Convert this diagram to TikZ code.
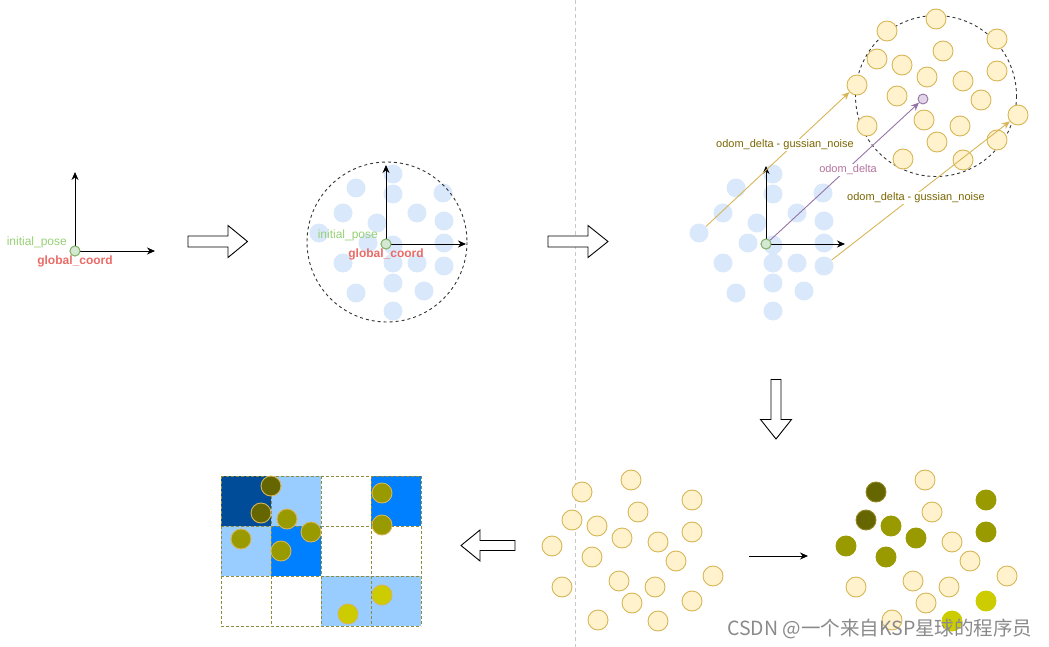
\documentclass[tikz,border=0pt]{standalone}
\usepackage{fontspec}
\setmainfont{Liberation Sans}
\newfontfamily\cjkfont{Noto Sans CJK SC}
\usetikzlibrary{arrows.meta}
\definecolor{bluefill}{HTML}{DAE8FC}
\definecolor{yfill}{HTML}{FFF2CC}
\definecolor{ystroke}{HTML}{D6B656}
\definecolor{gfill}{HTML}{D5E8D4}
\definecolor{gstroke}{HTML}{82B366}
\definecolor{pfill}{HTML}{E1D5E7}
\definecolor{pstroke}{HTML}{9673A6}
\definecolor{ptext}{HTML}{B5739D}
\definecolor{gtext}{HTML}{97D077}
\definecolor{rtext}{HTML}{EA6B66}
\definecolor{otext}{HTML}{7A6600}
\definecolor{cdark}{HTML}{666600}
\definecolor{colive}{HTML}{999900}
\definecolor{cyel}{HTML}{CCCC00}
\definecolor{bdark}{HTML}{004C99}
\definecolor{blight}{HTML}{99CCFF}
\definecolor{bmid}{HTML}{007FFF}
\definecolor{gridline}{HTML}{8C8C3C}
\definecolor{sepline}{HTML}{C8C8C8}
\definecolor{wm}{HTML}{8A8A8A}
\begin{document}
\begin{tikzpicture}[x=1pt,y=-1pt,
  bluedot/.style={circle,fill=bluefill,draw=none,minimum size=19pt,inner sep=0pt},
  ylight/.style={circle,fill=yfill,draw=ystroke,line width=0.9pt,minimum size=20pt,inner sep=0pt},
  ydark/.style={circle,fill=cdark,draw=ystroke!40!cdark,line width=0.9pt,minimum size=20pt,inner sep=0pt},
  yolive/.style={circle,fill=colive,draw=colive,line width=0.9pt,minimum size=20pt,inner sep=0pt},
  yyel/.style={circle,fill=cyel,draw=cyel,line width=0.9pt,minimum size=20pt,inner sep=0pt},
  gdark/.style={circle,fill=cdark,draw=ystroke,line width=0.9pt,minimum size=20pt,inner sep=0pt},
  golive/.style={circle,fill=colive,draw=ystroke,line width=0.9pt,minimum size=20pt,inner sep=0pt},
  gyel/.style={circle,fill=cyel,draw=ystroke,line width=0.9pt,minimum size=20pt,inner sep=0pt},
  origdot/.style={circle,fill=gfill,draw=gstroke,line width=0.9pt,minimum size=10pt,inner sep=0pt},
  pdot/.style={circle,fill=pfill,draw=pstroke,line width=0.9pt,minimum size=10pt,inner sep=0pt},
  axisarrow/.style={draw=black,line width=0.9pt,-{Stealth[length=8pt,width=7pt]}},
  rangecirc/.style={draw=black!80,line width=0.9pt,dash pattern=on 3pt off 3pt},
  hollowarrow/.style={draw=black,line width=0.9pt,fill=white},
  posel/.style={text=gtext,font=\fontsize{12}{14}\selectfont,inner sep=1pt},
  coordl/.style={text=rtext,font=\fontsize{12}{14}\selectfont\bfseries,inner sep=1pt},
  odoml/.style={text=otext,font=\fontsize{11}{13}\selectfont,fill=white,inner sep=1pt},
  deltal/.style={text=ptext,font=\fontsize{11}{13}\selectfont,fill=white,inner sep=1pt},
  yline/.style={draw=ystroke,line width=0.9pt,-{Stealth[length=8pt,width=7pt]}},
  pline/.style={draw=pstroke,line width=0.9pt,-{Stealth[length=8pt,width=7pt]}},
  gridcell/.style={draw=gridline,line width=1pt,dash pattern=on 3pt off 2pt}
]
\useasboundingbox (0,0) rectangle (1049,647);
% separator
\draw[sepline,line width=0.8pt,dash pattern=on 4pt off 3pt] (575,0) -- (575,647);

% ---------- picture 1 ----------
\node[origdot] (o1) at (75,251) {};
\coordinate (o1y) at (75,172);
\coordinate (o1x) at (155,251);
\draw[axisarrow] (o1) -- (o1y);
\draw[axisarrow] (o1) -- (o1x);
\node[origdot] at (75,251) {};
\node[posel,anchor=east] (ip1) at (68,242) {initial\_pose};
\node[coordl] (gc1) at (75,261.5) {global\_coord};

% hollow arrow 1
\draw[hollowarrow,shift={(188,241.5)}] (0,-5.5) -- (40,-5.5) -- (40,-16) -- (59.5,0) -- (40,16) -- (40,5.5) -- (0,5.5) -- cycle;

% ---------- picture 2 ----------
\coordinate (o2c) at (386,244);
\foreach \dx/\dy [count=\i] in {7/-70,-30/-56,7/-50,57/-51,-43/-31,31/-31,-9/-21,58/-23,-67/-11,-18/-1,7/1,58/-1,-43/19,7/19,31/19,58/22,7/39,-30/49,38/47,7/67}
  \node[bluedot] (p2b\i) at ([shift={(\dx,\dy)}]o2c) {};
\draw[rangecirc] (387,242) circle[radius=80];
\node[origdot] (o2) at (386,244) {};
\coordinate (o2y) at (386,165);
\coordinate (o2x) at (466,244);
\draw[axisarrow] (o2) -- (o2y);
\draw[axisarrow] (o2) -- (o2x);
\node[origdot] at (386,244) {};
\node[posel,anchor=east] (ip2) at (379,235) {initial\_pose};
\node[coordl] (gc2) at (386,254.5) {global\_coord};

% hollow arrow 2
\draw[hollowarrow,shift={(548,241.5)}] (0,-5.5) -- (40,-5.5) -- (40,-16) -- (60,0) -- (40,16) -- (40,5.5) -- (0,5.5) -- cycle;

% ---------- picture 3 ----------
\coordinate (o3c) at (766,244);
\foreach \dx/\dy [count=\i] in {7/-70,-30/-56,7/-50,57/-51,-43/-31,31/-31,-9/-21,58/-23,-67/-11,-18/-1,7/1,58/-1,-43/19,7/19,31/19,58/22,7/39,-30/49,38/47,7/67}
  \node[bluedot] (p3b\i) at ([shift={(\dx,\dy)}]o3c) {};
\draw[rangecirc] (936,96) circle[radius=80.5];
\coordinate (r3) at (923,99);
\foreach \dx/\dy [count=\i] in {13/-80,-36/-68,74/-60,20/-48,-46/-40,-21/-34,74/-28,4/-22,40/-18,-66/-14,-26/-3,58/1,1/21,95/16,-56/27,37/27,14/43,74/41,-20/60,40/61}
  \node[ylight] (p3y\i) at ([shift={(\dx,\dy)}]r3) {};
\node[pdot] (pd) at (923,99) {};
\node[origdot] (o3) at (766,244) {};
\coordinate (o3y) at (766,166);
\coordinate (o3x) at (845,244);
\draw[axisarrow] (o3) -- (o3y);
\draw[axisarrow] (o3) -- (o3x);
\draw[yline] (p3b9) -- (p3y10);
\draw[yline] (p3b16) -- (p3y14);
\draw[pline] (o3) -- (pd);
\node[origdot] at (766,244) {};
\node[odoml] (l1) at (785,145) {odom\_delta - gussian\_noise};
\node[deltal] (l2) at (848,170) {odom\_delta};
\node[odoml] (l3) at (916,198) {odom\_delta - gussian\_noise};

% down hollow arrow
\draw[hollowarrow,shift={(776,379.5)},rotate=-90] (0,-5) -- (40,-5) -- (40,-15.5) -- (59.5,0) -- (40,15.5) -- (40,5) -- (0,5) -- cycle;

% ---------- picture 4 ----------
\coordinate (r4) at (618,560);
\foreach \dx/\dy [count=\i] in {13/-80,-36/-68,74/-60,20/-48,-46/-40,-21/-34,74/-28,4/-22,40/-18,-66/-14,-26/-3,58/1,1/21,95/16,-56/27,37/27,14/43,74/41,-20/60,40/61}
  \node[ylight] (p4y\i) at ([shift={(\dx,\dy)}]r4) {};

% small arrow
\coordinate (sa1) at (749,556);
\coordinate (sa2) at (808,556);
\draw[axisarrow,line width=0.8pt] (sa1) -- (sa2);

% ---------- picture 5 ----------
\coordinate (r5) at (912,560);
\foreach \dx/\dy/\st [count=\i] in {13/-80/ylight,-36/-68/ydark,74/-60/yolive,20/-48/ylight,-46/-40/ydark,-21/-34/yolive,74/-28/yolive,4/-22/yolive,40/-18/ylight,-66/-14/yolive,-26/-3/yolive,58/1/ylight,1/21/ylight,95/16/ylight,-56/27/ylight,37/27/ylight,14/43/ylight,74/41/yyel,-20/60/ylight,40/61/yyel}
  \node[\st] (p5y\i) at ([shift={(\dx,\dy)}]r5) {};

% left hollow arrow
\draw[hollowarrow,shift={(515,545.5)},rotate=180] (0,-5) -- (35,-5) -- (35,-15.5) -- (54,0) -- (35,15.5) -- (35,5) -- (0,5) -- cycle;

% ---------- picture 6 : grid ----------
\fill[bdark]  (221,476) rectangle (271,526);
\fill[blight] (271,476) rectangle (321,526);
\fill[bmid]   (371,476) rectangle (421,526);
\fill[blight] (221,526) rectangle (271,576);
\fill[bmid]   (271,526) rectangle (321,576);
\fill[blight] (321,576) rectangle (371,626);
\fill[blight] (371,576) rectangle (421,626);
\foreach \cy in {476,526,576,626}
  \draw[gridcell] (221,\cy) -- (421,\cy);
\foreach \cx in {221,271,321,371,421}
  \draw[gridcell] (\cx,476) -- (\cx,626);
\node[gdark]  (g1) at (271,486) {};
\node[gdark]  (g2) at (261,513) {};
\node[golive] (g3) at (287,519) {};
\node[golive] (g4) at (311,532) {};
\node[golive] (g5) at (241,539) {};
\node[golive] (g6) at (281,551) {};
\node[golive] (g7) at (382,493) {};
\node[golive] (g8) at (382,525) {};
\node[gyel]   (g9) at (382,595) {};
\node[gyel]   (g10) at (348,614) {};

% watermark
\node[anchor=west,text=wm,font=\cjkfont\fontsize{19.5}{21}\selectfont,inner sep=0pt] (wmk) at (727,629) {CSDN @一个来自KSP星球的程序员};
\end{tikzpicture}
\end{document}
